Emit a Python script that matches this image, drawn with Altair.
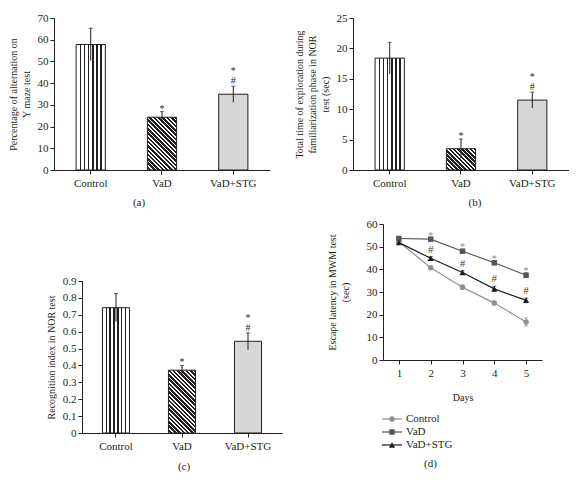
import math
import altair as alt
import pandas as pd

# ---------------- data ----------------
groups = ["Control", "VaD", "VaD+STG"]

ymaze_mean = [57.8, 24.3, 34.9]
ymaze_err = [7.5, 2.6, 3.7]
explore_mean = [18.4, 3.5, 11.5]
explore_err = [2.6, 1.6, 1.3]
recog_mean = [0.742, 0.372, 0.543]
recog_err = [0.083, 0.028, 0.05]
bar_star = ["", "*", "*"]
bar_hash = ["", "", "#"]

days = [1, 2, 3, 4, 5]
mwm_control = [52.2, 40.7, 32.1, 25.1, 16.8]
mwm_vad = [53.6, 53.3, 48.0, 42.9, 37.4]
mwm_stg = [51.8, 44.9, 38.6, 31.4, 26.3]
err_control = [0.8, 0.6, 1.0, 0.8, 1.8]
err_vad = [0.8, 0.6, 0.8, 0.9, 1.0]
err_stg = [0.6, 0.7, 0.8, 1.1, 1.0]
mwm_star_vad = ["", "*", "*", "*", "*"]
mwm_hash_stg = ["", "#", "#", "#", "#"]

FONT = "Liberation Serif"
INK = "#231f20"
LINE_COLORS = ["#8f8f8f", "#555555", "#1c1c1c"]
SHAPES = ["circle", "square", "triangle-up"]
SIZES = [30, 30, 38]
PI, PO = 0.59, 0.31


def GS(o, c):
    return alt.GradientStop(offset=o, color=c)


def vstripes(n_lines=6, half=0.026):
    stops = [GS(0, "white")]
    for i in range(1, n_lines + 1):
        p = i / (n_lines + 1)
        stops += [GS(p - half, "white"), GS(p - half, INK), GS(p + half, INK), GS(p + half, "white")]
    stops.append(GS(1, "white"))
    return alt.Gradient(gradient="linear", stops=stops, x1=0, y1=0, x2=1, y2=0)


def diag(w, h, period=3.0, dark=0.6):
    k = (w + h) / (w * w + h * h)
    n = max(2, round((w + h) / math.sqrt(2) / period))
    stops = []
    for i in range(n):
        t0, tm, t1 = i / n, (i + dark) / n, (i + 1) / n
        stops += [GS(t0, INK), GS(tm, INK), GS(tm, "white"), GS(t1, "white")]
    return alt.Gradient(gradient="linear", stops=stops, x1=1, y1=0, x2=1 - w * k, y2=h * k)


def bar_panel(mean, err, ymax, ticks, ytitle, label, W, H, plot_w, plot_h,
              fmt_expr=None, xrange=None, yrange=None, y_offset=0,
              title_frame="bounds", title_dx=0, title_offset=9):
    lo = [m - e for m, e in zip(mean, err)]
    hi = [m + e for m, e in zip(mean, err)]
    star_alone = [s if not h else "" for s, h in zip(bar_star, bar_hash)]
    star_above = [s if h else "" for s, h in zip(bar_star, bar_hash)]
    df = pd.DataFrame({"Group": groups, "mean": mean, "lo": lo, "hi": hi,
                       "star_alone": star_alone, "star_above": star_above, "hash": bar_hash})
    xs = dict(domain=groups, paddingInner=PI, paddingOuter=PO)
    if xrange:
        xs["range"] = xrange
    X = alt.X("Group:N", sort=groups, scale=alt.Scale(**xs),
              axis=alt.Axis(title=None, labelAngle=0, labelPadding=3, tickSize=4))
    ys = dict(domain=[0, ymax], nice=False, zero=True)
    if yrange:
        ys["range"] = yrange
    yax = dict(title=ytitle, values=ticks, tickSize=4, labelPadding=2,
               titlePadding=6, titleLineHeight=13, offset=y_offset)
    if fmt_expr:
        yax["labelExpr"] = fmt_expr

    def Y(f):
        return alt.Y(f, type="quantitative", scale=alt.Scale(**ys), axis=alt.Axis(**yax))

    step = plot_w / (3 - PI + 2 * PO)
    bw = step * (1 - PI)
    fills = [vstripes(), diag(bw, mean[1] / ymax * plot_h), "#d6d6d6"]
    base = alt.Chart(df)
    layers = []
    for g, fill in zip(groups, fills):
        layers.append(base.transform_filter(alt.datum.Group == g)
                      .mark_bar(fill=fill, stroke=INK, strokeWidth=1)
                      .encode(x=X, y=Y("mean")))
    layers.append(base.mark_rule(color=INK, strokeWidth=1).encode(x=X, y=Y("lo"), y2="hi:Q"))
    layers.append(base.mark_tick(color=INK, size=4, thickness=1).encode(x=X, y=Y("hi")))
    layers.append(base.mark_text(dy=0, font=FONT, fontSize=10, fill=INK, baseline="alphabetic")
                  .encode(x=X, y=Y("hi"), text="star_alone:N"))
    layers.append(base.mark_text(dy=-2, font=FONT, fontSize=10, fill=INK, baseline="alphabetic")
                  .encode(x=X, y=Y("hi"), text="hash:N"))
    layers.append(base.mark_text(dy=-12, font=FONT, fontSize=10, fill=INK, baseline="alphabetic")
                  .encode(x=X, y=Y("hi"), text="star_above:N"))
    return alt.layer(*layers).properties(
        width=W, height=H,
        title=alt.TitleParams(label, orient="bottom", frame=title_frame, anchor="middle",
                              dx=title_dx, offset=title_offset, font=FONT, fontSize=11,
                              fontWeight="normal", color=INK))


H1 = 152
panel_a = bar_panel(ymaze_mean, ymaze_err, 70, list(range(0, 71, 10)),
                    ["Percentage of alternation on", "Y maze test"], "(a)",
                    216, H1, 216, H1, title_offset=9)
panel_b = bar_panel(explore_mean, explore_err, 25, list(range(0, 26, 5)),
                    ["Total time of exploration during", "familiarization phase in NOR", "test (sec)"],
                    "(b)", 216, H1, 216, H1, title_frame="group", title_dx=14, title_offset=9)
C_TOP = 57
C_H = 209
panel_c = bar_panel(recog_mean, recog_err, 0.9, [round(i * 0.1, 1) for i in range(10)],
                    "Recognition index in NOR test", "(c)", 228, C_H, 200, C_H - C_TOP,
                    fmt_expr="datum.value == 0 ? '0' : format(datum.value, '.1f')",
                    xrange=[28, 228], yrange=[C_H, C_TOP], y_offset=-28,
                    title_frame="group", title_dx=16, title_offset=10)

# ---------------- panel d ----------------
rows = []
for g, vals, errs in [("Control", mwm_control, err_control), ("VaD", mwm_vad, err_vad),
                      ("VaD+STG", mwm_stg, err_stg)]:
    for i, d in enumerate(days):
        rows.append({"Day": d, "Group": g, "value": vals[i], "lo": vals[i] - errs[i],
                     "hi": vals[i] + errs[i],
                     "star": mwm_star_vad[i] if g == "VaD" else "",
                     "hash": mwm_hash_stg[i] if g == "VaD+STG" else ""})
dfd = pd.DataFrame(rows)

Xd = alt.X("Day:Q", scale=alt.Scale(domain=[0.5, 5.5], nice=False, zero=False),
           axis=alt.Axis(title="Days", values=days, format="d", tickSize=4, labelPadding=3,
                         titlePadding=14, offset=0))


def Yd(f):
    return alt.Y(f, type="quantitative", scale=alt.Scale(domain=[0, 60], nice=False),
                 axis=alt.Axis(title=["Escape latency in MWM test", "(sec)"],
                               values=list(range(0, 61, 10)), tickSize=4, labelPadding=2,
                               titlePadding=16, titleLineHeight=13, offset=0))


cscale = alt.Scale(domain=groups, range=LINE_COLORS)
Cd = alt.Color("Group:N", scale=cscale, legend=None)

based = alt.Chart(dfd)
d_layers = [
    based.mark_line(strokeWidth=1.2).encode(x=Xd, y=Yd("value"), color=Cd),
    based.mark_rule(strokeWidth=1).encode(x=Xd, y=Yd("lo"), y2="hi:Q", color=Cd),
    based.mark_tick(orient="horizontal", size=4, thickness=1).encode(x=Xd, y=Yd("hi"), color=Cd),
    based.mark_tick(orient="horizontal", size=4, thickness=1).encode(x=Xd, y=Yd("lo"), color=Cd),
]
for g, shp, sz in zip(groups, SHAPES, SIZES):
    d_layers.append(based.transform_filter(alt.datum.Group == g)
                    .mark_point(filled=True, shape=shp, size=sz, opacity=1)
                    .encode(x=Xd, y=Yd("value"), color=Cd))
d_layers.append(based.mark_text(font=FONT, fontSize=10, fill="#8a8a8a", baseline="alphabetic", dy=1)
                .encode(x=Xd, y=Yd("hi"), text="star:N"))
d_layers.append(based.mark_text(font=FONT, fontSize=11, fill="#444444", baseline="alphabetic", dy=-4)
                .encode(x=Xd, y=Yd("hi"), text="hash:N"))
data_d = alt.layer(*d_layers)

# legend for panel d, drawn from the group list below the plot
dfl = pd.DataFrame({"Group": groups})
Yl = alt.Y("Group:N", sort=groups, axis=None,
           scale=alt.Scale(type="point", domain=groups, range=[195, 221], padding=0))
basel = alt.Chart(dfl)
l_layers = [basel.mark_rule(strokeWidth=1.2).encode(x=alt.value(-1), x2=alt.value(19), y=Yl, color=Cd)]
for g, shp, sz in zip(groups, SHAPES, SIZES):
    l_layers.append(basel.transform_filter(alt.datum.Group == g)
                    .mark_point(filled=True, shape=shp, size=sz, opacity=1)
                    .encode(x=alt.value(9), y=Yl, color=Cd))
l_layers.append(basel.mark_text(align="left", baseline="middle", font=FONT, fontSize=11, fill=INK)
                .encode(x=alt.value(23), y=Yl, text="Group:N"))
legend_d = alt.layer(*l_layers)

panel_d = alt.layer(data_d, legend_d).resolve_scale(y="independent").properties(
    width=159, height=136,
    title=alt.TitleParams("(d)", orient="bottom", frame="bounds", anchor="middle", offset=8,
                          dx=-4, font=FONT, fontSize=11, fontWeight="normal", color=INK))

row1 = alt.hconcat(panel_a, panel_b, spacing=24)
row2 = alt.hconcat(panel_c, panel_d, spacing=44).resolve_scale(color="independent")
chart = alt.vconcat(row1, row2, spacing=10).resolve_scale(color="independent").properties(
    padding={"left": 0, "top": 0, "right": 0, "bottom": 0}
).configure_view(stroke=None).configure_axis(
    labelFont=FONT, titleFont=FONT, labelFontSize=11, titleFontSize=10,
    titleFontWeight="normal", labelColor=INK, titleColor=INK, domainColor=INK,
    tickColor=INK, grid=False, domainWidth=1, tickWidth=1
)

chart.save("out.html", embed_options={"renderer": "svg", "actions": False})
